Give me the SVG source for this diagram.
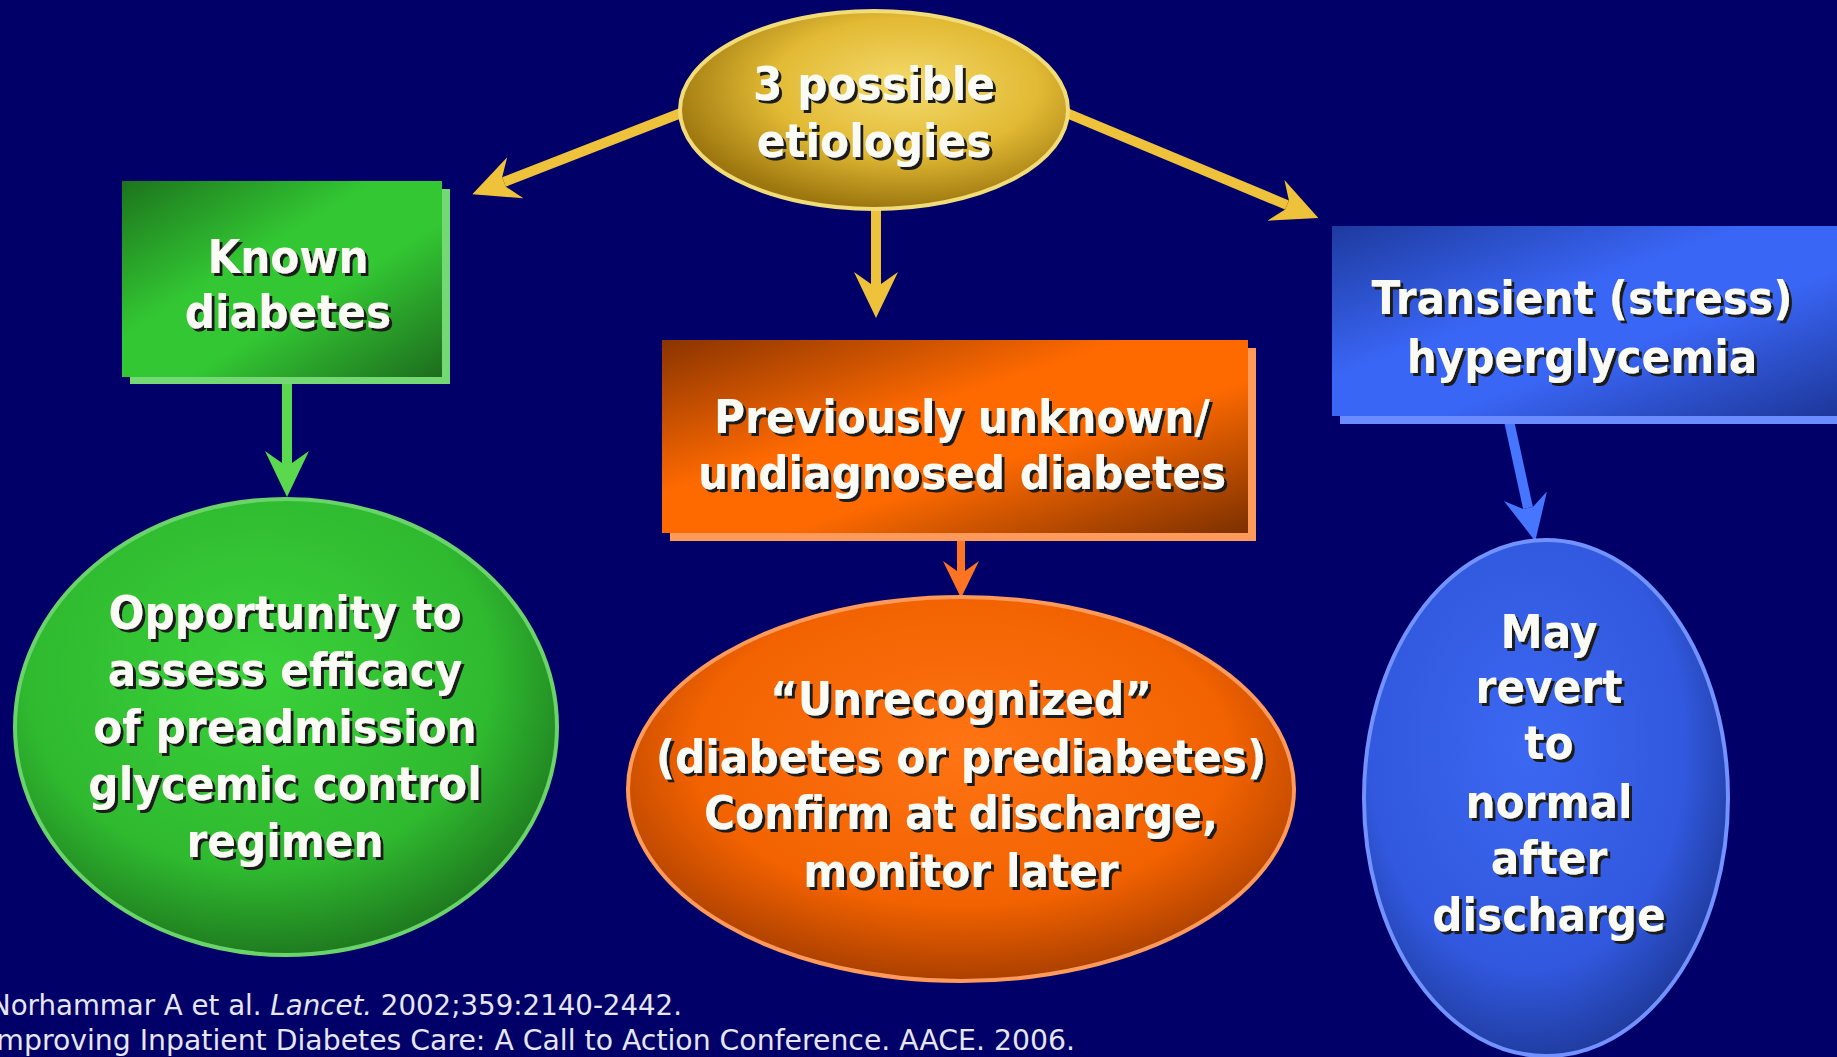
<svg xmlns="http://www.w3.org/2000/svg" width="1837" height="1057" viewBox="0 0 1837 1057">
<style>
.t{font-family:"DejaVu Sans",Verdana,sans-serif;font-weight:bold;font-size:47px;fill:#fbfbf5;text-anchor:middle;filter:url(#ts)}
.ft{font-family:"DejaVu Sans",Tahoma,sans-serif;font-size:28px;fill:#e6e6f2}
.sh{stroke-linecap:butt;fill:none}
</style>
<defs>
<filter id="ts" x="-10%" y="-20%" width="125%" height="150%">
<feOffset in="SourceAlpha" dx="3" dy="3" result="o"/>
<feFlood flood-color="#1c1c1c"/>
<feComposite in2="o" operator="in" result="s"/>
<feMerge><feMergeNode in="s"/><feMergeNode in="SourceGraphic"/></feMerge>
</filter>
<radialGradient id="gGold" cx="0.58" cy="0.38" r="0.62">
<stop offset="0" stop-color="#f4da6c"/><stop offset="0.55" stop-color="#e2ba34"/><stop offset="1" stop-color="#9c760e"/>
</radialGradient>
<linearGradient id="gGreenBox" x1="0" y1="0" x2="1" y2="1">
<stop offset="0" stop-color="#1c741c"/><stop offset="0.4" stop-color="#33c833"/><stop offset="0.6" stop-color="#33c833"/><stop offset="1" stop-color="#1d6d1d"/>
</linearGradient>
<linearGradient id="gOrangeBox" x1="0" y1="0" x2="1" y2="1">
<stop offset="0" stop-color="#8a3400"/><stop offset="0.4" stop-color="#ff6a00"/><stop offset="0.6" stop-color="#ff6a00"/><stop offset="1" stop-color="#7c3000"/>
</linearGradient>
<linearGradient id="gBlueBox" x1="0" y1="0" x2="1" y2="1">
<stop offset="0" stop-color="#1d3a9e"/><stop offset="0.4" stop-color="#3a66f6"/><stop offset="0.6" stop-color="#3a66f6"/><stop offset="1" stop-color="#1c3596"/>
</linearGradient>
<radialGradient id="gGreenEl" cx="0.45" cy="0.38" r="0.62">
<stop offset="0" stop-color="#3ad23a"/><stop offset="0.7" stop-color="#2fb92f"/><stop offset="1" stop-color="#1f7c1f"/>
</radialGradient>
<radialGradient id="gOrangeEl" cx="0.5" cy="0.4" r="0.62">
<stop offset="0" stop-color="#ff7414"/><stop offset="0.65" stop-color="#f26200"/><stop offset="1" stop-color="#a43c00"/>
</radialGradient>
<radialGradient id="gBlueEl" cx="0.45" cy="0.4" r="0.62">
<stop offset="0" stop-color="#3c68f2"/><stop offset="0.7" stop-color="#3158de"/><stop offset="1" stop-color="#1f3a9c"/>
</radialGradient>
<marker id="mGold" viewBox="0 -23 46 46" refX="12" refY="0" markerWidth="46" markerHeight="46" markerUnits="userSpaceOnUse" orient="auto">
<path d="M12,-5 L0,-22 L46,0 L0,22 L12,5 Z" fill="#efc23c"/>
</marker>
<marker id="mGreen" viewBox="0 -23 46 46" refX="12" refY="0" markerWidth="46" markerHeight="46" markerUnits="userSpaceOnUse" orient="auto">
<path d="M12,-5 L0,-22 L46,0 L0,22 L12,5 Z" fill="#5ad84e"/>
</marker>
<marker id="mOrange" viewBox="0 -19 37 38" refX="10" refY="0" markerWidth="37" markerHeight="38" markerUnits="userSpaceOnUse" orient="auto">
<path d="M10,-4 L0,-18 L37,0 L0,18 L10,4 Z" fill="#ff7422"/>
</marker>
<marker id="mBlue" viewBox="0 -23 46 46" refX="12" refY="0" markerWidth="46" markerHeight="46" markerUnits="userSpaceOnUse" orient="auto">
<path d="M12,-5 L0,-22 L46,0 L0,22 L12,5 Z" fill="#4676ff"/>
</marker>
</defs>
<rect width="1837" height="1057" fill="#000068"/>

<g id="connectors">
<line class="sh" x1="699" y1="106" x2="504" y2="182" stroke="#efc23c" stroke-width="10" marker-end="url(#mGold)"/>
<line class="sh" x1="1045" y1="104" x2="1287" y2="205" stroke="#efc23c" stroke-width="10" marker-end="url(#mGold)"/>
<line class="sh" x1="876" y1="200" x2="876" y2="284" stroke="#efc23c" stroke-width="10" marker-end="url(#mGold)"/>
<line class="sh" x1="287" y1="377" x2="287" y2="463" stroke="#5ad84e" stroke-width="10" marker-end="url(#mGreen)"/>
<line class="sh" x1="961" y1="533" x2="961" y2="571" stroke="#ff7422" stroke-width="8" marker-end="url(#mOrange)"/>
<line class="sh" x1="1508" y1="416" x2="1528" y2="508" stroke="#4676ff" stroke-width="10" marker-end="url(#mBlue)"/>
</g>

<g id="node-etiologies">
<ellipse cx="874" cy="110" rx="194" ry="99" fill="url(#gGold)" stroke="#f2dc78" stroke-width="4"/>
<g transform="translate(874,0) scale(0.9,1)">
<text class="t" x="0" y="100">3 possible</text>
<text class="t" x="0" y="157">etiologies</text>
</g>
</g>

<g id="node-known">
<rect x="130" y="189" width="320" height="195" fill="#74d874"/>
<rect x="122" y="181" width="320" height="196" fill="url(#gGreenBox)"/>
<g transform="translate(288,0) scale(0.9,1)">
<text class="t" x="0" y="273">Known</text>
<text class="t" x="0" y="328">diabetes</text>
</g>
</g>

<g id="node-opportunity">
<ellipse cx="286" cy="727" rx="271" ry="228" fill="url(#gGreenEl)" stroke="#6ad46a" stroke-width="4"/>
<g transform="translate(285,0) scale(0.9,1)">
<text class="t" x="0" y="629">Opportunity to</text>
<text class="t" x="0" y="686">assess efficacy</text>
<text class="t" x="0" y="743">of preadmission</text>
<text class="t" x="0" y="800">glycemic control</text>
<text class="t" x="0" y="857">regimen</text>
</g>
</g>

<g id="node-previously">
<rect x="670" y="348" width="586" height="193" fill="#ff9a5a"/>
<rect x="662" y="340" width="586" height="193" fill="url(#gOrangeBox)"/>
<g transform="translate(962,0) scale(0.9,1)">
<text class="t" x="0" y="433">Previously unknown/</text>
<text class="t" x="0" y="489">undiagnosed diabetes</text>
</g>
</g>

<g id="node-unrecognized">
<ellipse cx="961" cy="789" rx="333" ry="192" fill="url(#gOrangeEl)" stroke="#ff9a5a" stroke-width="4"/>
<g transform="translate(961,0) scale(0.9,1)">
<text class="t" x="0" y="715">“Unrecognized”</text>
<text class="t" x="0" y="773">(diabetes or prediabetes)</text>
<text class="t" x="0" y="829">Confirm at discharge,</text>
<text class="t" x="0" y="887">monitor later</text>
</g>
</g>

<g id="node-transient">
<rect x="1340" y="234" width="520" height="190" fill="#6a8cff"/>
<rect x="1332" y="226" width="520" height="190" fill="url(#gBlueBox)"/>
<g transform="translate(1582,0) scale(0.9,1)">
<text class="t" x="0" y="314">Transient (stress)</text>
<text class="t" x="0" y="373">hyperglycemia</text>
</g>
</g>

<g id="node-revert">
<ellipse cx="1546" cy="798" rx="182" ry="258" fill="url(#gBlueEl)" stroke="#7292ff" stroke-width="4"/>
<g transform="translate(1549,0) scale(0.9,1)">
<text class="t" x="0" y="648">May</text>
<text class="t" x="0" y="703">revert</text>
<text class="t" x="0" y="759">to</text>
<text class="t" x="0" y="818">normal</text>
<text class="t" x="0" y="874">after</text>
<text class="t" x="0" y="931">discharge</text>
</g>
</g>

<g id="footer">
<text class="ft" x="-10" y="1015" textLength="692" lengthAdjust="spacingAndGlyphs">Norhammar A et al. <tspan font-style="italic">Lancet.</tspan> 2002;359:2140-2442.</text>
<text class="ft" x="-12" y="1050" textLength="1087" lengthAdjust="spacingAndGlyphs">Improving Inpatient Diabetes Care: A Call to Action Conference. AACE. 2006.</text>
</g>
</svg>
